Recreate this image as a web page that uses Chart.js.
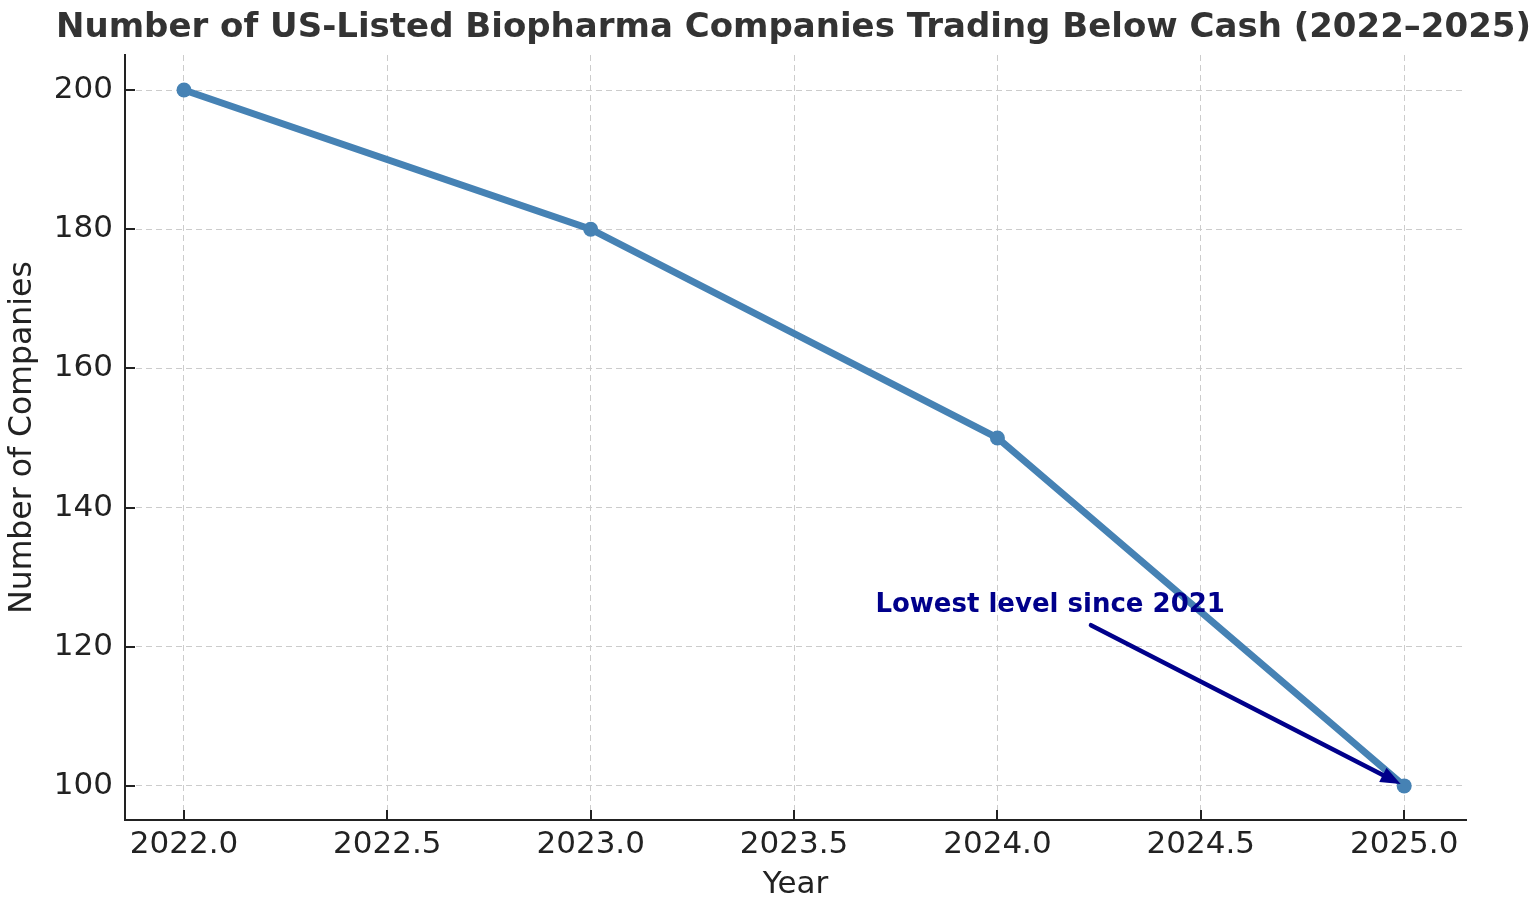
<!DOCTYPE html>
<html>
<head>
<meta charset="utf-8">
<script src="https://cdn.jsdelivr.net/npm/chart.js@4.4.1/dist/chart.umd.min.js"></script>
<style>
html,body{margin:0;padding:0;background:#fff;}
#wrap{width:1538px;height:910px;}
</style>
</head>
<body>
<div id="wrap"><canvas id="c" width="1538" height="910"></canvas></div>
<script>
const years = [2022, 2023, 2024, 2025];
const companies = [200, 180, 150, 100];
const xTicks = [2022.0, 2022.5, 2023.0, 2023.5, 2024.0, 2024.5, 2025.0];
const yTicks = [100, 120, 140, 160, 180, 200];
const xRange = [2021.855, 2025.152];
const yRange = [95.1, 205.03];
const titleText = 'Number of US-Listed Biopharma Companies Trading Below Cash (2022\u20132025)';
const annotText = 'Lowest level since 2021';
const annotTextPos = [2023.70, 125];
const annotArrowFrom = [2024.23, 123.1];
const annotArrowTo = [2025, 100];

const FONT = "'DejaVu Sans', sans-serif";
const LINE = '#4682B4';

const overlay = {
  id: 'overlay',
  afterDraw(chart) {
    const ctx = chart.ctx;
    const xs = chart.scales.x, ys = chart.scales.y;
    const ca = chart.chartArea;
    ctx.save();
    // title centred over the plot area
    ctx.fillStyle = '#333';
    ctx.font = "bold 34px " + FONT;
    ctx.textAlign = 'center';
    ctx.textBaseline = 'middle';
    ctx.fillText(titleText, (ca.left + ca.right) / 2 - 2, 28);
    // inward ticks
    ctx.strokeStyle = '#222';
    ctx.lineWidth = 2;
    ctx.beginPath();
    xTicks.forEach(v => {
      const px = Math.round(xs.getPixelForValue(v));
      ctx.moveTo(px, ca.bottom);
      ctx.lineTo(px, ca.bottom - 10);
    });
    yTicks.forEach(v => {
      const py = Math.round(ys.getPixelForValue(v));
      ctx.moveTo(ca.left, py);
      ctx.lineTo(ca.left + 10, py);
    });
    ctx.stroke();
    // annotation text
    ctx.fillStyle = '#00008B';
    ctx.font = "bold 26px " + FONT;
    ctx.textBaseline = 'alphabetic';
    ctx.textAlign = 'left';
    ctx.fillText(annotText, xs.getPixelForValue(annotTextPos[0]), ys.getPixelForValue(annotTextPos[1]));
    // arrow
    const x1 = xs.getPixelForValue(annotArrowFrom[0]), y1 = ys.getPixelForValue(annotArrowFrom[1]);
    let x2 = xs.getPixelForValue(annotArrowTo[0]), y2 = ys.getPixelForValue(annotArrowTo[1]);
    const ang = Math.atan2(y2 - y1, x2 - x1);
    x2 -= Math.cos(ang) * 4; y2 -= Math.sin(ang) * 4;
    const hl = 20, hw = 8;
    const bx = x2 - Math.cos(ang) * hl, by = y2 - Math.sin(ang) * hl;
    ctx.strokeStyle = '#00008B';
    ctx.lineWidth = 4.5;
    ctx.lineCap = 'round';
    ctx.beginPath();
    ctx.moveTo(x1, y1);
    ctx.lineTo(bx, by);
    ctx.stroke();
    ctx.fillStyle = '#00008B';
    ctx.beginPath();
    ctx.moveTo(x2, y2);
    ctx.lineTo(bx + Math.sin(ang) * hw, by - Math.cos(ang) * hw);
    ctx.lineTo(bx - Math.sin(ang) * hw, by + Math.cos(ang) * hw);
    ctx.closePath();
    ctx.fill();
    ctx.restore();
  }
};

new Chart(document.getElementById('c'), {
  type: 'line',
  data: {
    datasets: [{
      data: years.map((y, i) => ({x: y, y: companies[i]})),
      borderColor: LINE,
      backgroundColor: LINE,
      borderWidth: 7,
      pointRadius: 7.5,
      pointBackgroundColor: LINE,
      pointBorderWidth: 0,
      tension: 0,
      clip: false
    }]
  },
  options: {
    responsive: false,
    animation: false,
    devicePixelRatio: 1,
    layout: {padding: {left: 0, right: 72, top: 55, bottom: 0}},
    plugins: {
      legend: {display: false},
      tooltip: {enabled: false},
      title: {display: false}
    },
    scales: {
      x: {
        type: 'linear',
        min: xRange[0], max: xRange[1],
        afterBuildTicks: s => { s.ticks = xTicks.map(v => ({value: v})); },
        afterFit: s => { s.height = 90; },
        grid: {color: '#cccccc', lineWidth: 1, drawTicks: false},
        border: {display: true, color: '#222', width: 2, dash: [6, 4]},
        ticks: {
          color: '#222', padding: 6,
          font: {family: FONT, size: 31},
          callback: v => Number(v).toFixed(1),
          maxRotation: 0, autoSkip: false
        },
        title: {display: true, text: 'Year', color: '#222', font: {family: FONT, size: 31, lineHeight: 1.2}, padding: {top: 0, bottom: 6}}
      },
      y: {
        type: 'linear',
        min: yRange[0], max: yRange[1],
        afterBuildTicks: s => { s.ticks = yTicks.map(v => ({value: v})); },
        afterFit: s => { s.width = 125; },
        grid: {color: '#cccccc', lineWidth: 1, drawTicks: false},
        border: {display: true, color: '#222', width: 2, dash: [6, 4]},
        ticks: {
          color: '#222', padding: 12,
          font: {family: FONT, size: 31},
          callback: v => String(v),
          autoSkip: false
        },
        title: {display: true, text: 'Number of Companies', color: '#222', font: {family: FONT, size: 31.5, lineHeight: 1.2}, padding: {top: 4, bottom: 0}}
      }
    }
  },
  plugins: [overlay]
});
</script>
</body>
</html>
